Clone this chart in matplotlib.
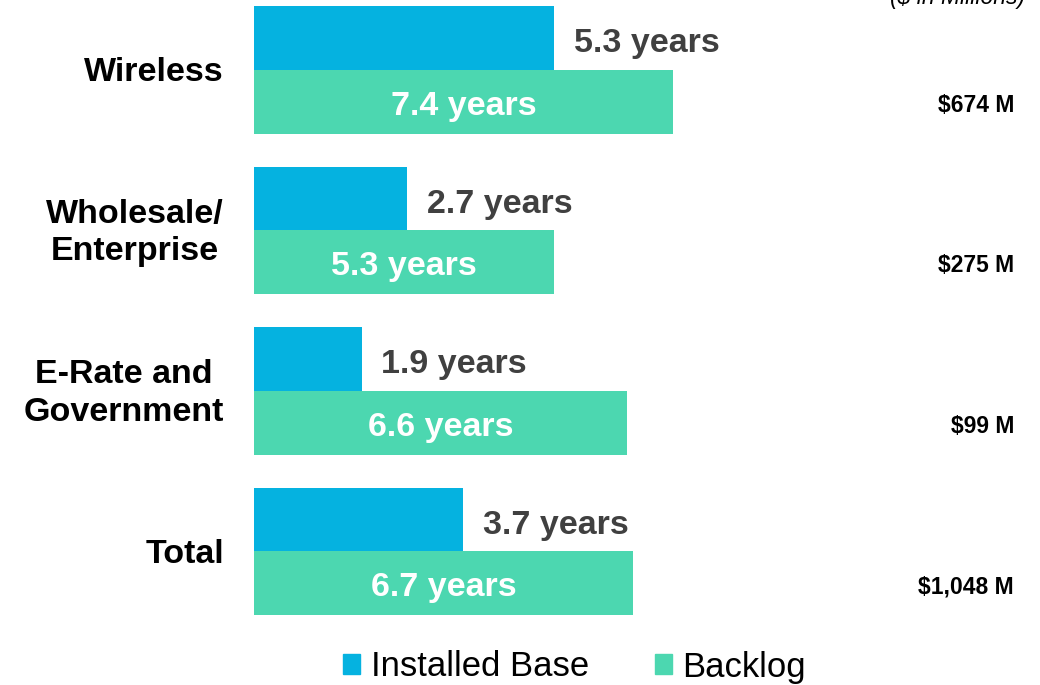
import matplotlib
matplotlib.use("Agg")
import matplotlib.pyplot as plt
from matplotlib.patches import Patch
from matplotlib.transforms import offset_copy

plt.rcParams['font.family'] = ['Liberation Sans', 'DejaVu Sans']

categories = ["Wireless", "Wholesale/\nEnterprise", "E-Rate and\nGovernment", "Total"]
installed_base = [5.3, 2.7, 1.9, 3.7]
backlog = [7.4, 5.3, 6.6, 6.7]
backlog_value = ["$674 M", "$275 M", "$99 M", "$1,048 M"]

blue = "#05b2e0"
green = "#4cd7b0"
dark = "#404040"

fig = plt.figure(figsize=(10.4, 6.85), dpi=100)
ax = fig.add_axes([254 / 1040, 0, 786 / 1040, 1])
ax.set_xlim(0, 13.89)
ax.set_ylim(3.832, -0.436)
ax.axis("off")


def label(x, y, s, size, dy=0, **kw):
    # put the middle of the (last line's) capitals at (x, y), shifted dy pixels down
    cap_half = 0.716 * size * 100 / 72 / 2
    tr = offset_copy(ax.transData, fig=fig, x=0, y=-(dy + cap_half), units="dots")
    ax.text(x, y, s, transform=tr, va="baseline", fontsize=size, clip_on=False, **kw)


h = 0.396
for i, cat in enumerate(categories):
    ax.barh(i - h / 2, installed_base[i], height=h, color=blue)
    ax.barh(i + h / 2, backlog[i], height=h, color=green)
    label(installed_base[i] + 0.353, i - h / 2, "%.1f years" % installed_base[i], 24.5,
          dy=2, ha="left", fontweight="bold", color=dark)
    label(backlog[i] / 2, i + h / 2, "%.1f years" % backlog[i], 24.5,
          dy=1, ha="center", fontweight="bold", color="white")
    n = cat.count("\n") + 1
    label(-0.53, i, cat, 24.5, dy=-1 + 18.5 * (n - 1), ha="right",
          multialignment="center", linespacing=1.27, fontweight="bold", color="black")
    label(13.43, i + h / 2, backlog_value[i], 16.5, dy=2,
          ha="right", fontweight="bold", color="black")

fig.text(1025 / 1040, 1.003, "($ in Millions)", ha="right", va="center",
         fontsize=16.5, style="italic", color="black")

handles = [Patch(color=blue, label="Installed Base"), Patch(color=green, label="Backlog")]
fig.legend(handles=handles, loc="center", bbox_to_anchor=(574.5 / 1040, 18 / 685),
           ncol=2, frameon=False, fontsize=24.9, handlelength=0.5, handleheight=0.5,
           handletextpad=0.3, columnspacing=1.9, borderpad=0)

fig.savefig("out.png", dpi=100)
